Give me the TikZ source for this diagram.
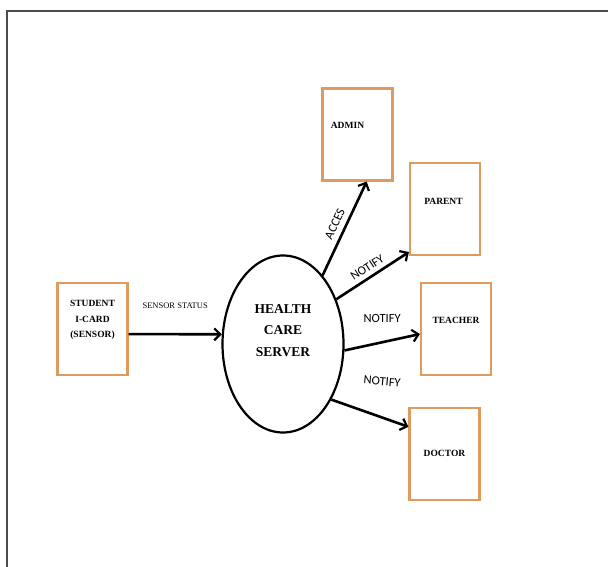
\documentclass[tikz,border=0pt]{standalone}
\usepackage{fontspec}
\setmainfont{Liberation Serif}
\newfontfamily\notefont{Carlito}
\usetikzlibrary{shapes.geometric,arrows.meta}

\definecolor{boxorange}{RGB}{222,155,95}

\tikzset{
    actor/.style={draw=boxorange, line width=2.2pt, minimum width=70pt, minimum height=92pt},
    actortext/.style={font=\fontsize{9.5}{15.5}\selectfont\bfseries, align=center},
    flow/.style={line width=2.6pt, -{Straight Barb[length=6pt,width=12pt,line width=2.2pt]}},
    flowtext/.style={font=\notefont\fontsize{12.5}{14}\selectfont}
}

\begin{document}
\begin{tikzpicture}[x=1pt, y=-1pt]
    \useasboundingbox (0,0) rectangle (608,567);

    % frame
    \draw[black!70, line width=1.5pt] (7,567) -- (7,11) -- (608,11);

    % server
    \node[ellipse, draw, line width=2.2pt, minimum width=121pt, minimum height=177pt,
          font=\fontsize{13.5}{21.5}\selectfont\bfseries, align=center]
          (srv) at (283,344) {HEALTH\\CARE\\SERVER\\[6pt]};

    % student card
    \node[actor, label={[actortext, yshift=9pt]center:STUDENT\\I-CARD\\(SENSOR)}] (stu) at (92.5,329) {};

    % receivers
    \node[actor, label={[actortext, xshift=-10pt, yshift=9.5pt]center:ADMIN}] (adm) at (357.5,134.5) {};
    \node[actor, label={[actortext, xshift=-1.5pt, yshift=8pt]center:PARENT}] (par) at (445,209) {};
    \node[actor, label={[actortext, yshift=9pt]center:TEACHER}] (tea) at (456,329) {};
    \node[actor, label={[actortext, yshift=1pt]center:DOCTOR}] (doc) at (444.5,454) {};

    % flows
    \draw[flow] (stu.-8) -- node[above=21pt, font=\fontsize{8.5}{10}\selectfont] {SENSOR STATUS} (srv.171);
    \draw[flow] (srv.60) -- node[flowtext, sloped, above=2pt] {ACCES} (adm.-79);
    \draw[flow] (srv.40) -- node[flowtext, sloped, above=1pt] {NOTIFY} (par.-130);
    \draw[flow] (srv.-6) -- node[flowtext, above=15pt] {NOTIFY} (tea.-172);
    \draw[flow] (srv.-49) -- node[flowtext, pos=0.65, above=27pt, rotate=-5] {NOTIFY} (doc.143);
\end{tikzpicture}
\end{document}
